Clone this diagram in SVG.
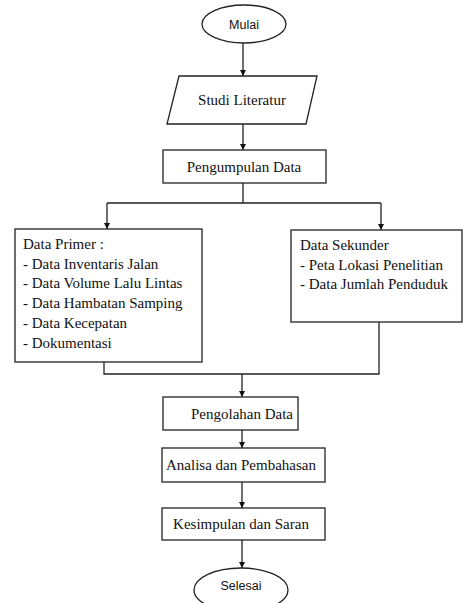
<svg xmlns="http://www.w3.org/2000/svg" width="463" height="603" viewBox="0 0 463 603">
<style>
.shape{fill:#fff;stroke:#222;stroke-width:1.3}
.line{fill:none;stroke:#222;stroke-width:1.3}
.t{font-family:'Liberation Serif','Times New Roman','DejaVu Serif',serif;font-size:15px;fill:#111}
.c{text-anchor:middle}
.s{font-family:'Liberation Sans',Arial,sans-serif;font-size:12.5px;fill:#111;text-anchor:middle}
</style>
<defs>
<marker id="ah" viewBox="0 0 8 8" refX="8" refY="4" markerWidth="6.5" markerHeight="6.5" markerUnits="userSpaceOnUse" orient="auto">
<path d="M0,0 L8,4 L0,8 Z" fill="#111"/>
</marker>
</defs>
<rect width="463" height="603" fill="#fff"/>
<g id="connectors">
<path class="line" d="M243,43 V76" marker-end="url(#ah)"/>
<path class="line" d="M243,124 V150" marker-end="url(#ah)"/>
<path class="line" d="M243,183 V203"/>
<path class="line" d="M107,203 H381"/>
<path class="line" d="M107,203 V229" marker-end="url(#ah)"/>
<path class="line" d="M381,203 V230" marker-end="url(#ah)"/>
<path class="line" d="M104,362 V374 H379 V322"/>
<path class="line" d="M242,374 V397" marker-end="url(#ah)"/>
<path class="line" d="M242,430 V448" marker-end="url(#ah)"/>
<path class="line" d="M242,482 V508" marker-end="url(#ah)"/>
<path class="line" d="M242,540 V568" marker-end="url(#ah)"/>
</g>
<g id="mulai">
<ellipse class="shape" cx="244" cy="24" rx="42" ry="19"/>
<text class="s" x="244" y="28.5">Mulai</text>
</g>
<g id="studi-literatur">
<polygon class="shape" points="179,76 317,76 306,124 167,124"/>
<text class="t c" font-family="Liberation Serif, serif" x="242" y="105">Studi Literatur</text>
</g>
<g id="pengumpulan-data">
<rect class="shape" x="163" y="150" width="163" height="33"/>
<text class="t c" x="244" y="171.5">Pengumpulan Data</text>
</g>
<g id="data-primer">
<rect class="shape" x="15" y="229" width="187" height="133"/>
<text class="t" x="23" y="249">Data Primer :</text>
<text class="t" x="23" y="268.7">- Data Inventaris Jalan</text>
<text class="t" x="23" y="288.4">- Data Volume Lalu Lintas</text>
<text class="t" x="23" y="308.1">- Data Hambatan Samping</text>
<text class="t" x="23" y="327.8">- Data Kecepatan</text>
<text class="t" x="23" y="347.5">- Dokumentasi</text>
</g>
<g id="data-sekunder">
<rect class="shape" x="291" y="230" width="171" height="92"/>
<text class="t" x="300" y="250">Data Sekunder</text>
<text class="t" x="300" y="269.7">- Peta Lokasi Penelitian</text>
<text class="t" x="300" y="289.4">- Data Jumlah Penduduk</text>
</g>
<g id="pengolahan-data">
<rect class="shape" x="163" y="397" width="135" height="33"/>
<text class="t c" x="242" y="418.5">Pengolahan Data</text>
</g>
<g id="analisa">
<rect class="shape" x="162" y="448" width="163" height="34"/>
<text class="t c" x="241" y="470">Analisa dan Pembahasan</text>
</g>
<g id="kesimpulan">
<rect class="shape" x="162" y="508" width="163" height="32"/>
<text class="t c" x="241" y="529">Kesimpulan dan Saran</text>
</g>
<g id="selesai">
<ellipse class="shape" cx="241" cy="590" rx="47" ry="22"/>
<text class="s" x="241" y="589.5">Selesai</text>
</g>
</svg>
